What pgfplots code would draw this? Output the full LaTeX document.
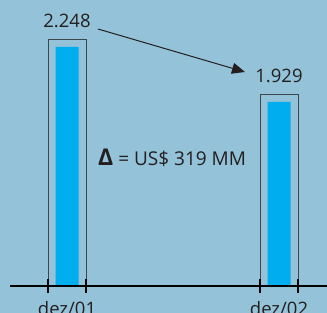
\documentclass[border=0pt]{standalone}
\usepackage{pgfplots}
\pgfplotsset{compat=1.18}
\usetikzlibrary{arrows.meta}
\usepackage{fontspec}
\setmainfont{Open Sans}
\definecolor{bg}{RGB}{148,194,216}
\definecolor{barc}{RGB}{0,174,239}
\definecolor{boxc}{RGB}{60,70,78}
\definecolor{txt}{RGB}{35,31,32}
\begin{document}
\begin{tikzpicture}[x=1bp,y=1bp]
\useasboundingbox (0,0) rectangle (327,313);
\clip (0,0) rectangle (327,313);
\fill[bg] (0,0) rectangle (327,313);
\begin{axis}[
  at={(10bp,27bp)}, anchor=south west,
  scale only axis, width=317bp, height=286bp,
  xmin=-0.26887, xmax=1.22642, ymin=861.8, ymax=2520.6,
  axis x line=bottom, axis y line=none,
  x axis line style={-, line width=1.2bp, black},
  xtick={-0.0894,0.0894,0.9106,1.0894}, xticklabels={},
  major tick length=13bp,
  xtick style={line width=2.4bp, black},
  tick align=center,
  extra x ticks={0,1}, extra x tick labels={dez/01,dez/02},
  extra x tick style={tick style={draw=none}, xticklabel style={anchor=base, yshift=-23bp}},
  tick label style={font=\fontsize{18.5bp}{20bp}\selectfont, text=txt},
  /pgf/number format/assume math mode=true,
  /pgf/number format/1000 sep={.},
  clip=true, axis on top,
]
\addplot[ybar, bar shift=0pt, bar width=23bp, fill=barc, draw=none,
  nodes near coords,
  every node near coord/.append style={anchor=base, yshift=19bp, inner sep=0pt, text=txt, font=\fontsize{18.5bp}{20bp}\selectfont}]
  coordinates {(0,2248) (1,1929)};
\addplot[ybar, bar shift=0pt, bar width=38bp, fill=none, draw=boxc, line width=0.9bp,
  y filter/.expression={y+46.4}]
  coordinates {(0,2248) (1,1929)};
\end{axis}
\draw[-{Triangle[length=13bp,width=11bp]}, line width=1bp, txt] (98,284) -- (245,241);
\node[anchor=base west, inner sep=0pt, text=txt, font=\fontsize{19bp}{20bp}\selectfont] at (98,147.5) {{\fontsize{23bp}{23bp}\selectfont\bfseries Δ} = US\$ 319 MM};
\end{tikzpicture}
\end{document}
